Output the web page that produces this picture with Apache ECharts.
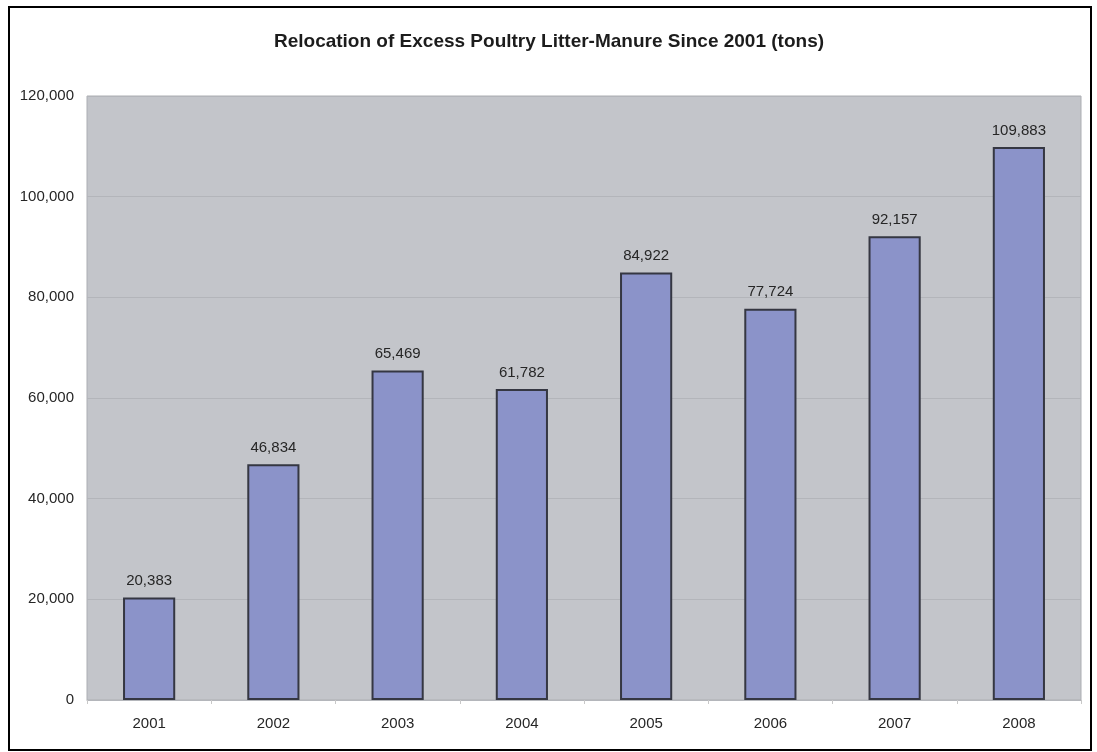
<!DOCTYPE html>
<html>
<head>
<meta charset="utf-8">
<script src="https://cdn.jsdelivr.net/npm/echarts@6/dist/echarts.min.js"></script>
<style>
  html, body { margin: 0; padding: 0; background: #fff; }
  #chart { width: 1097px; height: 752px; }
</style>
</head>
<body>
<div id="chart"></div>
<script>
// Tons of excess poultry litter relocated each year
const years = ['2001', '2002', '2003', '2004', '2005', '2006', '2007', '2008'];
const tons = [20383, 46834, 65469, 61782, 84922, 77724, 92157, 109883];
const yTicks = [0, 20000, 40000, 60000, 80000, 100000, 120000];

const fontFamily = '"Liberation Sans", Arial, Helvetica, sans-serif';
const fmt = v => v.toLocaleString('en-US');

const chart = echarts.init(document.getElementById('chart'), null, { renderer: 'canvas' });
chart.setOption({
  animation: false,
  backgroundColor: '#ffffff',
  title: {
    text: 'Relocation of Excess Poultry Litter-Manure Since 2001 (tons)',
    left: 544,
    top: 27,
    textAlign: 'center',
    textStyle: { fontFamily, fontSize: 19, fontWeight: 'bold', color: '#1c1c1c' }
  },
  graphic: [{
    type: 'rect',
    shape: { x: 9, y: 7, width: 1082, height: 743 },
    style: { fill: 'none', stroke: '#000', lineWidth: 2 },
    silent: true
  }],
  grid: {
    left: 87, right: 16, top: 96, bottom: 52,
    show: true,
    backgroundColor: '#c3c5ca',
    borderColor: '#acaeb3',
    borderWidth: 1
  },
  xAxis: {
    type: 'category',
    data: years,
    axisLine: { show: true, lineStyle: { color: '#b4b6bb', width: 1 } },
    axisTick: { show: true, length: 4, lineStyle: { color: '#c8c8c8' } },
    axisLabel: { fontFamily, fontSize: 15, color: '#262626', margin: 16 }
  },
  yAxis: {
    type: 'value',
    min: yTicks[0],
    max: yTicks[yTicks.length - 1],
    interval: yTicks[1] - yTicks[0],
    axisLine: { show: false },
    axisTick: { show: false },
    splitLine: { lineStyle: { color: '#b3b5ba', width: 1 } },
    axisLabel: { fontFamily, fontSize: 15, color: '#262626', margin: 13, formatter: fmt }
  },
  series: [{
    type: 'bar',
    data: tons,
    barWidth: '42%',
    itemStyle: { color: '#8b93c9', borderColor: '#353742', borderWidth: 2 },
    label: {
      show: true,
      position: 'top',
      distance: 9,
      fontFamily, fontSize: 15, color: '#262626',
      formatter: p => fmt(p.value)
    }
  }]
});
</script>
</body>
</html>
